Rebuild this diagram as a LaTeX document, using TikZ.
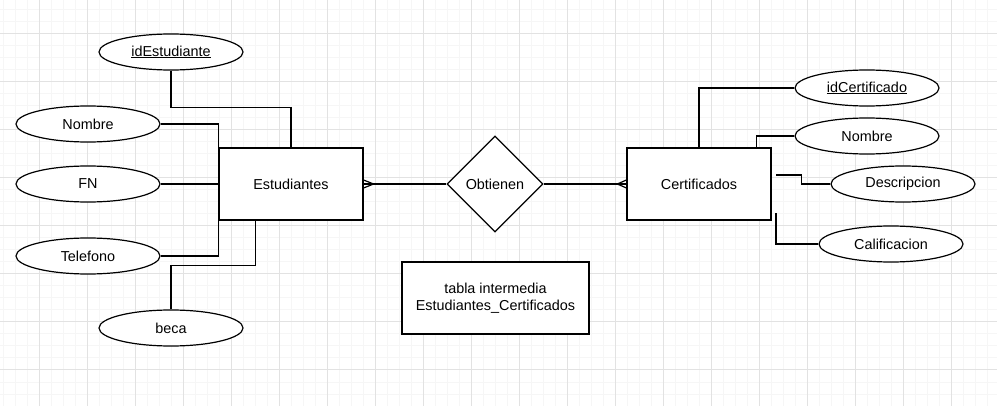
\documentclass[tikz,border=0pt]{standalone}
\usepackage{fontspec}
\setmainfont{Liberation Sans}
\usetikzlibrary{shapes.geometric,calc}
\definecolor{gridminor}{HTML}{F6F6F6}
\definecolor{gridmajor}{HTML}{E2E2E2}

\begin{document}
\begin{tikzpicture}[x=1pt,y=-1pt,font=\fontsize{14.4}{17.5}\selectfont,ent/.style={draw,line width=1.2pt,minimum width=144pt,minimum height=72pt,inner sep=0pt,align=center},attr/.style={draw,ellipse,line width=1.2pt,minimum width=144pt,minimum height=36pt,inner sep=0pt},rel/.style={draw,diamond,aspect=1,line width=1.2pt,minimum width=96pt,minimum height=96pt,inner sep=0pt},conn/.style={line width=1.2pt}]
\useasboundingbox[fill=white] (0,0) rectangle (997,406);
\foreach \x in {3.5,15.5,...,997}{\draw[gridminor,line width=1pt] (\x,0) -- (\x,406);}
\foreach \y in {10,22,...,406}{\draw[gridminor,line width=1pt] (0,\y) -- (997,\y);}
\foreach \x in {39.5,87.5,...,997}{\draw[gridmajor,line width=1pt] (\x,0) -- (\x,406);}
\foreach \y in {34,82,...,406}{\draw[gridmajor,line width=1pt] (0,\y) -- (997,\y);}
\node[ent,fill=white] (est) at (291,184){Estudiantes};
\node[rel,fill=white] (obt) at (495,184){Obtienen};
\node[ent,fill=white] (cert) at (699,184){Certificados};
\node[ent,fill=white,minimum width=187pt] (tabla) at (495.5,298){tabla intermedia\\Estudiantes\_Certificados};
\node[attr,fill=white] (idest) at (171,52){\underline{idEstudiante}};
\node[attr,fill=white] (nomest) at (88,124){Nombre};
\node[attr,fill=white] (fn) at (88,184){FN};
\node[attr,fill=white] (tel) at (88,256){Telefono};
\node[attr,fill=white] (beca) at (171,328){beca};
\node[attr,fill=white] (idcert) at (867,88){\underline{idCertificado}};
\node[attr,fill=white] (nomcert) at (867,136){Nombre};
\node[attr,fill=white] (desc) at (903,184){Descripcion};
\node[attr,fill=white] (calif) at (891,244){Calificacion};
\coordinate (descend) at (776,175);\coordinate (califend) at (776,213);
% atributos de Estudiantes
\draw[conn] (idest.south) |- ($(est.north)+(0,-40)$) -- (est.north);
\draw[conn] (nomest.east) -| (est.north west);\draw[conn] (fn.east) -- (est.west);\draw[conn] (tel.east) -| (est.south west);
\draw[conn] (beca.north) |- ($(est.south west)+(37,45)$) -- ($(est.south west)+(37,0)$);
% atributos de Certificados
\draw[conn] (idcert.west) -| (cert.north);\draw[conn] (nomcert.west) -| ($(cert.north east)+(-15,0)$);
\draw[conn] (desc.west) -- ++(-29,0) |- (descend);\draw[conn] (calif.west) -| (califend);
% relacion con pata de gallo
\draw[conn] (est.east) -- (obt.west);\draw[conn] ($(est.east)+(0,-4)$) -- ($(est.east)+(10,0)$) -- ($(est.east)+(0,4)$);
\draw[conn] (obt.east) -- (cert.west);\draw[conn] ($(cert.west)+(0,-4)$) -- ($(cert.west)+(-9,0)$) -- ($(cert.west)+(0,4)$);
\end{tikzpicture}
\end{document}
